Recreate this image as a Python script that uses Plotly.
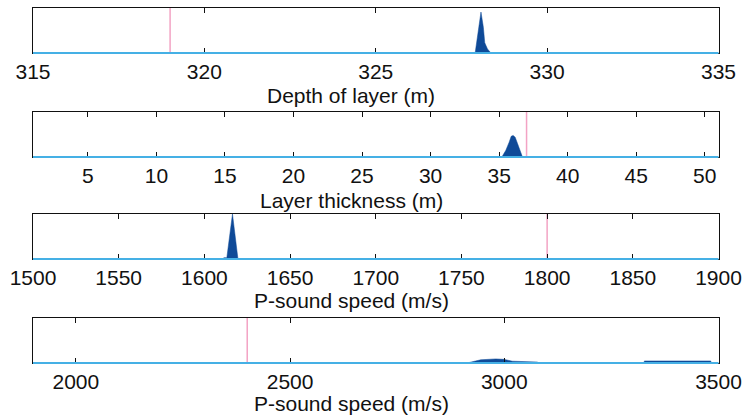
import plotly.graph_objects as go

# Posterior densities (scaled to panel height) and reference values
depth_x = [327.90, 327.97, 328.04, 328.07, 328.14, 328.18, 328.26, 328.36]
depth_y = [0.0, 0.41, 0.78, 0.91, 0.57, 0.23, 0.09, 0.0]
depth_true = 319.0
depth_range = [315, 335]
depth_ticks = [315, 320, 325, 330, 335]

thick_x = [35.20, 35.49, 35.73, 35.88, 36.02, 36.17, 36.34, 36.51, 36.70]
thick_y = [0.0, 0.15, 0.33, 0.46, 0.48, 0.44, 0.30, 0.15, 0.0]
thick_true = 37.0
thick_range = [1, 51]
thick_ticks = [5, 10, 15, 20, 25, 30, 35, 40, 45, 50]

vp1_x = [1610.5, 1611.5, 1613.1, 1616.4, 1619.6]
vp1_y = [0.0, 0.03, 0.03, 1.0, 0.0]
vp1_true = 1800.0
vp1_range = [1500, 1900]
vp1_ticks = [1500, 1550, 1600, 1650, 1700, 1750, 1800, 1850, 1900]

vp2_x = [2913, 2945, 2980, 2999, 3019, 3050, 3078, 3079, 3326, 3327, 3482, 3483]
vp2_y = [0.0, 0.07, 0.09, 0.08, 0.04, 0.03, 0.02, 0.0, 0.0, 0.045, 0.045, 0.0]
vp2_true = 2400.0
vp2_range = [1900, 3500]
vp2_ticks = [2000, 2500, 3000, 3500]

labels = ["Depth of layer (m)", "Layer thickness (m)",
          "P-sound speed (m/s)", "P-sound speed (m/s)"]

panels = [
    (depth_x, depth_y, depth_true, depth_range, depth_ticks),
    (thick_x, thick_y, thick_true, thick_range, thick_ticks),
    (vp1_x, vp1_y, vp1_true, vp1_range, vp1_ticks),
    (vp2_x, vp2_y, vp2_true, vp2_range, vp2_ticks),
]

W, H = 742, 418
# panel boxes in pixels: (top, bottom)
boxes = [(8, 53), (112, 157), (214, 259), (317.5, 363)]
label_y = [96, 200, 300, 403]
x_dom = [33 / W, 718.5 / W]

FILL = "#0f4a98"
CYAN = "#45b0e5"
PINK = "#f3a3c4"
FONT = "Liberation Sans, Arial, sans-serif"

fig = go.Figure()
layout = dict(
    width=W, height=H,
    margin=dict(l=0, r=0, t=0, b=0, autoexpand=False),
    paper_bgcolor="white", plot_bgcolor="white",
    showlegend=False,
    font=dict(family=FONT, size=21, color="#111111"),
    shapes=[], annotations=[],
)

for i, (px, py, truth, rng, ticks) in enumerate(panels):
    n = "" if i == 0 else str(i + 1)
    xa, ya = "x" + n, "y" + n
    top, bot = boxes[i]
    fig.add_trace(go.Scatter(
        x=px, y=py, xaxis=xa, yaxis=ya, mode="lines",
        line=dict(color=FILL, width=0.5), fill="tozeroy", fillcolor=FILL,
        hoverinfo="skip"))
    fig.add_trace(go.Scatter(
        x=[truth, truth], y=[0, 1], xaxis=xa, yaxis=ya, mode="lines",
        line=dict(color=PINK, width=1.5), hoverinfo="skip"))
    layout["xaxis" + n] = dict(
        domain=x_dom, anchor=ya, range=rng, tickvals=ticks,
        ticks="inside", ticklen=5, tickwidth=1.2, tickcolor="#111111",
        showline=True, linecolor="#111111", linewidth=1.3, mirror="ticks",
        showgrid=False, zeroline=False, automargin=False,
        tickfont=dict(family=FONT, size=21, color="#111111"),
    )
    layout["yaxis" + n] = dict(
        domain=[1 - bot / H, 1 - top / H], anchor=xa, range=[0, 1],
        showticklabels=False, ticks="", showgrid=False, zeroline=False,
        showline=True, linecolor="#111111", linewidth=1.3, mirror=True,
        automargin=False,
    )
    # cyan baseline along the bottom of each panel
    layout["shapes"].append(dict(
        type="line", xref=xa + " domain", yref=ya + " domain",
        x0=0, x1=1, y0=0, y1=0, line=dict(color=CYAN, width=2.2),
        layer="above"))
    layout["annotations"].append(dict(
        text=labels[i], xref="paper", yref="paper",
        x=351 / W, y=1 - label_y[i] / H,
        xanchor="center", yanchor="middle", showarrow=False,
        font=dict(family=FONT, size=21, color="#111111")))

fig.update_layout(**layout)
fig.write_html("out.html")
